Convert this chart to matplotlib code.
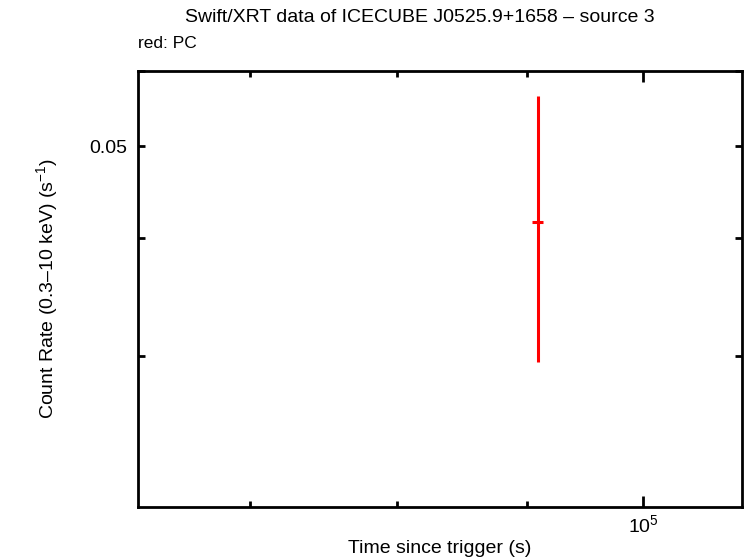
import matplotlib
matplotlib.use("Agg")
import matplotlib.pyplot as plt
from matplotlib.ticker import FixedLocator, NullFormatter

# data (single PC point)
t = [90860.0]
t_err = [450.0]
rate = [0.0416]
rate_lo = [0.0416 - 0.0296]
rate_hi = [0.0565 - 0.0416]

plt.rcParams['font.family'] = ['Liberation Sans', 'DejaVu Sans']
plt.rcParams['mathtext.fontset'] = 'custom'
plt.rcParams['mathtext.rm'] = 'Liberation Sans'
plt.rcParams['mathtext.it'] = 'Liberation Sans:italic'
plt.rcParams['mathtext.bf'] = 'Liberation Sans:bold'

fig = plt.figure(figsize=(7.46, 5.58), dpi=100)
ax = fig.add_axes([138 / 746, 51 / 558, 604 / 746, 436 / 558])

ax.errorbar(t, rate, xerr=[t_err, t_err], yerr=[rate_lo, rate_hi],
            fmt='none', ecolor='#ff0000', elinewidth=2.2, capsize=0)

ax.set_xscale('log')
ax.set_yscale('log')
ax.set_xlim(63200, 109400)
ax.set_ylim(0.0208, 0.06)

ax.xaxis.set_major_locator(FixedLocator([1e5]))
ax.xaxis.set_minor_locator(FixedLocator([7e4, 8e4, 9e4]))
ax.set_xticklabels(['$\\mathregular{10^5}$'])
ax.xaxis.set_minor_formatter(NullFormatter())

ax.yaxis.set_major_locator(FixedLocator([0.05]))
ax.yaxis.set_minor_locator(FixedLocator([0.03, 0.04, 0.06]))
ax.set_yticklabels(['0.05'])
ax.yaxis.set_minor_formatter(NullFormatter())

ax.tick_params(axis='both', which='both', direction='in', top=True, right=True,
               width=2, labelsize=14)
ax.tick_params(axis='x', which='both', pad=5)
ax.tick_params(axis='y', which='both', pad=8)
ax.tick_params(axis='x', which='major', length=8)
ax.tick_params(axis='x', which='minor', length=4)
ax.tick_params(axis='y', which='both', length=5)

for s in ax.spines.values():
    s.set_linewidth(2)

ax.set_xlabel('Time since trigger (s)', fontsize=14, labelpad=3)
ax.set_ylabel('Count Rate (0.3\u201310 keV) (s$\\mathregular{^{-1}}$)', fontsize=14, labelpad=21)

fig.text(420 / 746, 1 - 18 / 558, 'Swift/XRT data of ICECUBE J0525.9+1658 \u2013 source 3',
         ha='center', va='center', fontsize=14)
fig.text(138 / 746, 1 - 43 / 558, 'red: PC', ha='left', va='center', fontsize=12.5)

fig.savefig('out.png', dpi=100)
